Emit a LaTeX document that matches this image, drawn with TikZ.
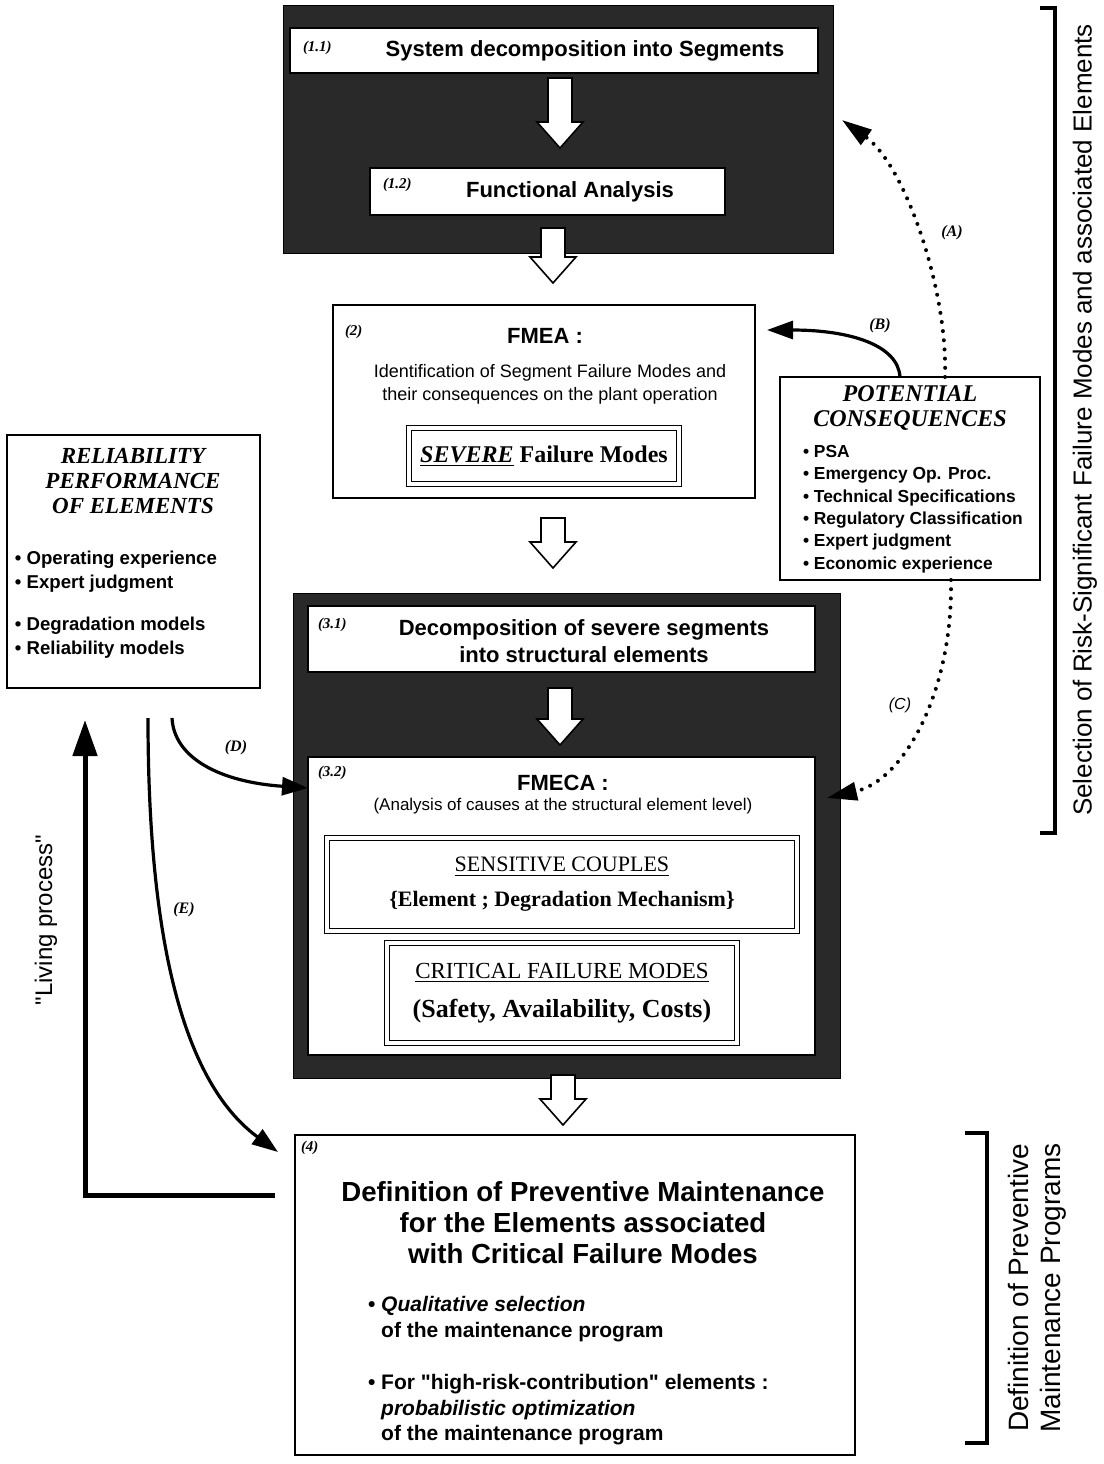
\documentclass[tikz,border=0pt]{standalone}
\usepackage{fontspec}
\setmainfont{Liberation Serif}
\setsansfont{Liberation Sans}[Ligatures=TeXOff]
\usetikzlibrary{arrows.meta}

% white block arrow pointing down: x, top y, tip y
\newcommand{\hollowarrow}[3]{%
  \draw[fill=white,line width=0.8pt] (#1-12,#2) -- (#1+12,#2) -- (#1+12,#3-26) -- (#1+23,#3-26)
    -- (#1,#3) -- (#1-23,#3-26) -- (#1-12,#3-26) -- cycle;}

\begin{document}
\begin{tikzpicture}[x=0.5pt,y=-0.5pt]
  \tikzstyle{every node}=[inner sep=0pt,outer sep=0pt]
  \tikzstyle{panel}=[rectangle,draw,fill=black!84,anchor=north west]
  \tikzstyle{stage}=[rectangle,draw,line width=0.8pt,fill=white,anchor=north west]
  \tikzstyle{result}=[rectangle,draw,line width=0.7pt,double,double distance=1.6pt,fill=white,anchor=north west,align=center]
  \tikzstyle{tag}=[anchor=west,font=\bfseries\itshape\fontsize{7.5}{8}\selectfont]
  \tikzstyle{heading}=[align=center,font=\sffamily\bfseries\fontsize{11}{13.5}\selectfont]
  \tikzstyle{note}=[align=center,font=\sffamily\fontsize{9}{11.5}\selectfont]
  \tikzstyle{caps}=[align=center,font=\bfseries\itshape\fontsize{12}{12.75}\selectfont]
  \tikzstyle{items}=[anchor=west,align=left,font=\sffamily\bfseries\fontsize{8.7}{11.2}\selectfont]
  \tikzstyle{flow}=[line width=1.6pt,-{Triangle[length=13pt,width=9pt]}]
  \tikzstyle{dotflow}=[line width=2pt,line cap=round,dash pattern=on 0pt off 4.6pt,-{Triangle[length=15pt,width=9pt]}]
  \tikzstyle{branch}=[font=\bfseries\itshape\fontsize{8}{9}\selectfont]
  \tikzstyle{bracket}=[line width=2pt]
  \tikzstyle{sidetext}=[rotate=90,align=center,font=\sffamily\fontsize{13}{15}\selectfont]

  \useasboundingbox (0,0) rectangle (1104,1464);

  % step 1 : decomposition and functional analysis
  \node[panel,minimum width=275pt,minimum height=124pt] (panelA) at (283,5) {};
  \node[stage,minimum width=264pt,minimum height=22.5pt] (decomp) at (290,28) {};
  \node[heading] (decomptext) at (585,51) {System decomposition into Segments};
  \node[tag] (decomptag) at (303,48) {(1.1)};
  \hollowarrow{560}{78}{148}
  \node[stage,minimum width=177.5pt,minimum height=23.5pt] (functional) at (370,168) {};
  \node[heading] (functext) at (570,192) {Functional Analysis};
  \node[tag] (functag) at (383,185) {(1.2)};
  \hollowarrow{553}{228}{283}

  % step 2 : FMEA
  \node[stage,minimum width=211pt,minimum height=96.5pt] (fmea) at (333,305) {};
  \node[tag] (fmeatag) at (345,332) {(2)};
  \node[heading] (fmeatitle) at (545,336) {FMEA :};
  \node[note] (fmeatext) at (550,384) {Identification of Segment Failure Modes and\\their consequences on the plant operation};
  \node[result,minimum width=135pt,minimum height=28pt,font=\bfseries\fontsize{12}{14}\selectfont] (severe) at (409,428) {\underline{\textit{SEVERE}} Failure Modes};
  \hollowarrow{553}{518}{568}

  % step 3 : FMECA
  \node[panel,minimum width=273.5pt,minimum height=242.5pt] (panelB) at (293,593) {};
  \node[stage,minimum width=253.5pt,minimum height=33pt] (segments) at (308,606) {};
  \node[heading] (segtext) at (584,641) {Decomposition of severe segments\\into structural elements};
  \node[tag] (segtag) at (318,625) {(3.1)};
  \hollowarrow{560}{688}{745}
  \node[stage,minimum width=253.5pt,minimum height=149pt] (fmeca) at (308,757) {};
  \node[tag] (fmecatag) at (318,773) {(3.2)};
  \node[heading] (fmecatitle) at (563,783) {FMECA :};
  \node[note,font=\sffamily\fontsize{8.5}{10}\selectfont] (fmecatext) at (563,806) {(Analysis of causes at the structural element level)};
  \node[result,minimum width=235pt,minimum height=46.5pt,font=\fontsize{11}{17.5}\selectfont] (couples) at (327,838)
    {\underline{SENSITIVE COUPLES}\\\textbf{\{Element ; Degradation Mechanism\}}};
  \node[result,minimum width=175pt,minimum height=50pt,font=\fontsize{11.5}{19.5}\selectfont] (critical) at (387,943)
    {\underline{CRITICAL FAILURE MODES}\\{\fontsize{13}{15}\selectfont\bfseries (Safety, Availability, Costs)}};
  \hollowarrow{563}{1075}{1125}

  % step 4 : maintenance
  \node[stage,minimum width=280pt,minimum height=160pt] (maint) at (295,1135) {};
  \node[tag] (mainttag) at (301,1148) {(4)};
  \node[heading,font=\sffamily\bfseries\fontsize{13.8}{15.5}\selectfont] (mainttitle) at (583,1223)
    {Definition of Preventive Maintenance\\for the Elements associated\\with Critical Failure Modes};
  \node[items,font=\sffamily\bfseries\fontsize{10.5}{12.75}\selectfont] (maintitems) at (368,1371)
    {• \textit{Qualitative selection}\\\phantom{• }of the maintenance program\\[13.5pt]%
     • For "high-risk-contribution" elements :\\\phantom{• }\textit{probabilistic optimization}\\\phantom{• }of the maintenance program};

  % input boxes
  \node[stage,minimum width=126.5pt,minimum height=126.5pt] (reliab) at (7,435) {};
  \node[caps,font=\bfseries\itshape\fontsize{11.5}{12.5}\selectfont] (reliabtitle) at (133,481) {RELIABILITY\\PERFORMANCE\\OF ELEMENTS};
  \node[items,font=\sffamily\bfseries\fontsize{9.3}{12}\selectfont] (reliabitems) at (15,605)
    {• Operating experience\\• Expert judgment\\[9pt]• Degradation models\\• Reliability models};
  \node[stage,minimum width=130pt,minimum height=101.5pt] (conseq) at (780,377) {};
  \node[caps] (conseqtitle) at (910,408) {POTENTIAL\\CONSEQUENCES};
  \node[items] (conseqitems) at (803,509) {• PSA\\• Emergency Op. Proc.\\• Technical Specifications\\• Regulatory Classification\\• Expert judgment\\• Economic experience};

  % links
  \draw[dotflow] ([xshift=17.5pt]conseq.north) .. controls (948,290) and (905,165) .. ([xshift=4.5pt,yshift=4.5pt]panelA.east);
  \node[branch] (alabel) at (952,233) {(A)};
  \draw[flow] ([xshift=-5pt]conseq.north) .. controls (898,345) and (850,330) .. ([xshift=6pt,yshift=-12.5pt]fmea.north east);
  \node[branch] (blabel) at (880,326) {(B)};
  \draw[dotflow] ([xshift=20.5pt]conseq.south) .. controls (953,690) and (905,780) .. ([xshift=6pt,yshift=-20.5pt]fmeca.north east);
  \node[branch,font=\sffamily\itshape\fontsize{8}{9}\selectfont] (clabel) at (900,705) {(C)};
  \coordinate (dstart) at (172,718);
  \draw[flow] (dstart) .. controls (174,758) and (220,782) .. ([yshift=-15.5pt]fmeca.north west);
  \node[branch] (dlabel) at (236,748) {(D)};
  \coordinate (estart) at (148,718);
  \draw[flow] (estart) .. controls (148,930) and (180,1080) .. ([xshift=-8.5pt,yshift=-8.5pt]maint.north west);
  \node[branch] (elabel) at (184,910) {(E)};

  % living process loop
  \coordinate (loopcorner) at (85,1195);
  \coordinate (looptop) at (85,720);
  \draw[line width=2.5pt,-{Triangle[length=18pt,width=12pt]}] ([xshift=-10pt,yshift=50pt]maint.west) -- (loopcorner) -- (looptop);
  \node[rotate=90,font=\sffamily\fontsize{12}{14}\selectfont] (living) at (46,920) {"Living process"};

  % brackets
  \draw[bracket] (1040,8) -- (1055,8) -- (1055,833) -- (1040,833);
  \node[sidetext] (selection) at (1085,420) {Selection of Risk-Significant Failure Modes and associated Elements};
  \draw[bracket] (965,1133) -- (987,1133) -- (987,1443) -- (965,1443);
  \node[sidetext,font=\sffamily\fontsize{14}{16}\selectfont] (definition) at (1037,1288) {Definition of Preventive\\Maintenance Programs};
\end{tikzpicture}
\end{document}
